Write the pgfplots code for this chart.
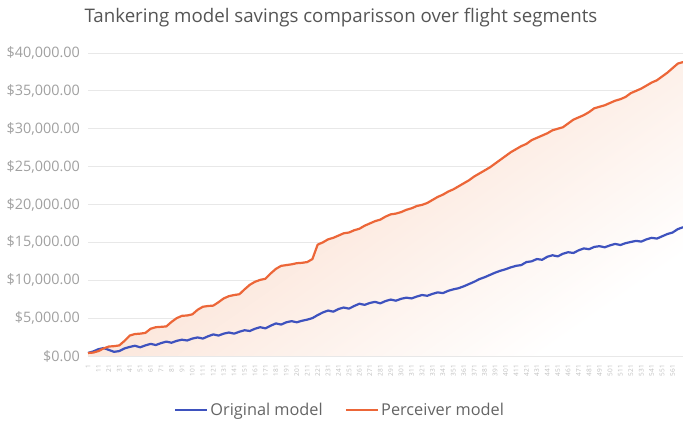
\documentclass[border=0pt]{standalone}
\usepackage{pgfplots}
\pgfplotsset{compat=1.18}
\usepackage{fontspec}
\setmainfont{Open Sans}
\definecolor{cblue}{RGB}{62,82,190}
\definecolor{corange}{RGB}{236,102,56}
\definecolor{ofill}{RGB}{250,216,198}
\definecolor{titlegray}{RGB}{85,85,85}
\definecolor{tickgray}{RGB}{160,160,160}
\definecolor{leggray}{RGB}{100,100,100}
\definecolor{gridgray}{RGB}{232,232,232}

\pgfplotstableread{
x y
1 400
6 450
11 650
16 1000
21 1250
26 1300
31 1400
36 2000
41 2700
46 2900
51 2950
56 3050
61 3600
66 3800
71 3850
76 3900
81 4500
86 5000
91 5300
96 5350
101 5500
106 6100
111 6500
116 6600
121 6650
126 7100
131 7600
136 7900
141 8050
146 8150
151 8800
156 9400
161 9800
166 10050
171 10200
176 10900
181 11500
186 11900
191 12000
196 12100
201 12250
206 12300
211 12400
216 12800
221 14700
226 15000
231 15400
236 15600
241 15900
246 16200
251 16300
256 16600
261 16800
266 17200
271 17500
276 17800
281 18000
286 18400
291 18700
296 18800
301 19000
306 19300
311 19500
316 19800
321 19950
326 20200
331 20600
336 21000
341 21300
346 21700
351 22000
356 22400
361 22800
366 23200
371 23700
376 24100
381 24500
386 24900
391 25400
396 25900
401 26400
406 26900
411 27300
416 27700
421 28000
426 28500
431 28800
436 29100
441 29400
446 29800
451 30000
456 30200
461 30700
466 31200
471 31500
476 31800
481 32200
486 32700
491 32900
496 33100
501 33400
506 33700
511 33900
516 34200
521 34700
526 35000
531 35300
536 35700
541 36100
546 36400
551 36900
556 37400
561 38000
566 38600
571 38800
}\perceiver

\pgfplotstableread{
x y
1 400
6 600
11 900
16 1050
21 800
26 550
31 650
36 1000
41 1200
46 1350
51 1150
56 1400
61 1600
66 1450
71 1700
76 1900
81 1750
86 2000
91 2150
96 2050
101 2300
106 2450
111 2300
116 2600
121 2850
126 2700
131 2950
136 3100
141 2950
146 3200
151 3400
156 3300
161 3600
166 3800
171 3650
176 4000
181 4300
186 4150
191 4450
196 4600
201 4450
206 4650
211 4800
216 5000
221 5400
226 5750
231 6000
236 5850
241 6200
246 6400
251 6250
256 6600
261 6900
266 6750
271 7000
276 7150
281 6950
286 7250
291 7450
296 7300
301 7550
306 7700
311 7600
316 7850
321 8050
326 7950
331 8200
336 8400
341 8300
346 8600
351 8800
356 8950
361 9200
366 9500
371 9800
376 10150
381 10400
386 10700
391 11000
396 11250
401 11450
406 11700
411 11900
416 12000
421 12400
426 12500
431 12800
436 12700
441 13100
446 13300
451 13150
456 13500
461 13700
466 13600
471 13950
476 14200
481 14100
486 14400
491 14500
496 14350
501 14600
506 14800
511 14650
516 14900
521 15050
526 15200
531 15100
536 15400
541 15600
546 15500
551 15800
556 16100
561 16300
566 16750
571 17000
}\original

\begin{document}
\begin{tikzpicture}
\path[use as bounding box] (0pt,0pt) rectangle (683pt,425pt);
\node[font=\fontsize{18.7}{22}\selectfont, text=titlegray] at (341pt,407pt) {Tankering model savings comparisson over flight segments};
\begin{axis}[
  at={(88pt,69pt)}, anchor=south west,
  scale only axis, width=595pt, height=303pt,
  xmin=1, xmax=571, ymin=0, ymax=40000,
  scaled y ticks=false, scaled x ticks=false,
  axis line style={draw=none},
  tick style={draw=none},
  ymajorgrids, grid style={color=gridgray, line width=0.9pt},
  ytick={0,5000,10000,15000,20000,25000,30000,35000,40000},
  yticklabels={{\$0.00},{\$5,000.00},{\$10,000.00},{\$15,000.00},{\$20,000.00},{\$25,000.00},{\$30,000.00},{\$35,000.00},{\$40,000.00}},
  yticklabel style={font=\fontsize{14.4}{15}\selectfont, text=tickgray, inner sep=0pt, xshift=-8pt},
  xtick={1,11,...,561},
  /pgf/number format/assume math mode=true,
  xticklabel shift=9pt,
  xticklabel style={rotate=90, anchor=east, font=\fontsize{6.5}{7}\selectfont, text=gray!50, inner sep=0pt},
  legend style={at={(0.4235,-0.178)}, anchor=center, draw=none, fill=none,
    legend columns=2, font=\fontsize{16.3}{17}\selectfont, text=leggray,
    /tikz/every even column/.append style={column sep=20pt}},
  legend cell align=left,
  legend image code/.code={\draw[#1, line width=2.5pt] (-4pt,0pt) -- (28pt,0pt);},
]
\addplot[draw=none, top color=ofill, bottom color=white, shading angle=35, forget plot] table[x=x,y=y] {\perceiver} \closedcycle;
\addplot[cblue, line width=2.2pt, line join=round] table[x=x,y=y] {\original};
\addlegendentry{Original model}
\addplot[corange, line width=2.2pt, line join=round] table[x=x,y=y] {\perceiver};
\addlegendentry{Perceiver model}
\end{axis}
\end{tikzpicture}
\end{document}
